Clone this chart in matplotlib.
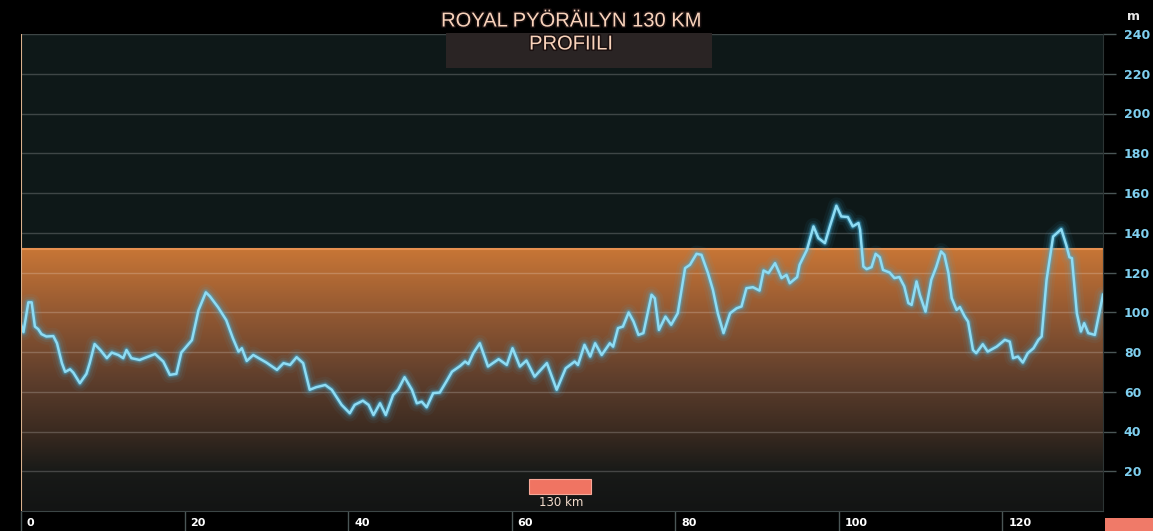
import numpy as np
import matplotlib.pyplot as plt
from matplotlib.colors import LinearSegmentedColormap
from matplotlib.patches import Rectangle
import matplotlib.patheffects as pe

# elevation profile
km = [0, 0.3, 0.9, 1.3, 1.7, 2.1, 2.5, 3.1, 3.95, 4.4, 5.0, 5.4, 6.0, 6.4, 7.2, 8.0, 8.4, 9.0, 9.7,
      10.5, 11.1, 11.9, 12.5, 12.9, 13.5, 14.5, 15.4, 16.4, 17.4, 18.2, 19.0, 19.6, 20.9, 21.7, 22.6,
      23.1, 24.1, 25.1, 25.9, 26.6, 27.0, 27.6, 28.4, 30.0, 31.3, 32.1, 32.9, 33.7, 34.5, 35.3, 36.1,
      37.2, 38.0, 39.2, 40.2, 40.8, 41.8, 42.5, 43.1, 43.9, 44.6, 45.5, 46.1, 46.9, 47.8, 48.4, 49.0,
      49.6, 50.4, 51.2, 52.0, 52.7, 53.7, 54.3, 54.7, 55.3, 56.1, 57.1, 58.4, 59.4, 60.1, 61.0, 61.8,
      62.8, 64.3, 65.5, 66.6, 67.7, 68.1, 68.9, 69.6, 70.2, 71.0, 72.0, 72.4, 73.0, 73.6, 74.3, 74.9,
      75.5, 76.1, 77.1, 77.5, 78.0, 78.8, 79.5, 80.3, 81.2, 81.8, 82.6, 83.2, 84.0, 84.6, 85.2, 85.9,
      86.7, 87.5, 88.1, 88.7, 89.5, 90.3, 90.8, 91.4, 92.2, 93.0, 93.6, 94.0, 94.9, 95.2, 96.1, 96.9,
      97.5, 98.3, 98.9, 99.7, 100.3, 101.1, 101.7, 102.4, 102.6, 103.0, 103.4, 104.0, 104.5, 105.0,
      105.4, 106.2, 106.8, 107.4, 108.0, 108.5, 108.9, 109.5, 109.9, 110.6, 111.3, 111.9, 112.5,
      112.9, 113.4, 113.8, 114.4, 114.8, 115.4, 115.8, 116.4, 116.8, 117.6, 118.2, 119.3, 120.3,
      120.9, 121.3, 121.9, 122.5, 123.1, 123.8, 124.4, 124.8, 125.4, 126.2, 127.2, 127.8, 128.2,
      128.5, 129.1, 129.6, 130.0, 130.5, 131.3, 132.3]
elev = [94, 90, 105, 105, 92.8, 91.5, 89, 87.8, 88, 84.4, 74.4, 70, 71.3, 69.6, 64.3, 69, 74.4, 84, 81,
        76.9, 79.7, 78.5, 76.9, 81, 76.9, 76, 77.4, 79, 75.2, 68.5, 69, 79.7, 86, 101, 110,
        108, 102.5, 96, 87, 80.2, 81.9, 75.5, 78.5, 74.7, 71, 74.4, 73.5, 77.4, 74.4, 61, 62.3,
        63.4, 61, 53.4, 49.2, 53.4, 55.5, 53.4, 48.3, 54.2, 48.3, 58.4, 61, 67.3, 61, 54.2, 55,
        52.2, 59.3, 59.6, 65.1, 70.1, 73, 75.2, 74, 79.4, 84.4, 72.7, 76.4, 73.5, 81.9, 72.7, 75.7,
        67.6, 74.4, 61, 71.8, 75.2, 73.5, 83.6, 77.7, 84.4, 78.5, 84.4, 82.7, 92, 92.8, 99.9, 95.3,
        88.6, 89.5, 108.8, 107, 91.1, 97.8, 93.7, 99.5, 122.2, 123.9, 129.4, 128.9, 119.7, 111.3, 99.5, 89.5,
        99.5, 102, 102.9, 112.1, 112.6, 110.9, 121, 119.7, 124.7, 117.2, 118.8, 114.6, 117.7, 123.9, 131.4, 143.2,
        137.3, 134.8, 143.2, 153.6, 148.2, 147.9, 143.2, 144.9, 141.5, 123, 121.7, 122.7, 129.4, 127.7,
        121.3, 120, 117.2, 117.7, 113, 104.6, 103.7, 115.5, 108.8, 100.3, 116.3, 122.7, 130.6,
        128.9, 119.7, 107.1, 101.2, 102.6, 97.8, 95.3, 81, 79.4, 83.9, 80.2, 82.7, 86.1,
        85.2, 76.9, 77.7, 74.7, 79.4, 81.9, 86.1, 87.8, 116.3, 138.1, 141.8, 133.9, 127.7,
        127.2, 99.5, 90.3, 94.5, 89.5, 88.6, 108.8]

band_top = 132
y_ticks = [20, 40, 60, 80, 100, 120, 140, 160, 180, 200, 220, 240]
x_ticks = [0, 20, 40, 60, 80, 100, 120]
title_1 = 'ROYAL PYÖRÄILYN 130 KM'
title_2 = 'PROFIILI'

plt.rcParams['font.family'] = ['DejaVu Sans']

fig = plt.figure(figsize=(11.53, 5.31), dpi=100, facecolor='black')
ax = fig.add_axes([21 / 1153, 20 / 531, 1082 / 1153, 477 / 531])
ax.set_facecolor('#0e1818')
ax.set_xlim(0, 132.3)
ax.set_ylim(0, 240)

# orange gradient band
cmap = LinearSegmentedColormap.from_list('band', [
    (0.0, '#131414'), (0.15, '#181a18'), (0.3, '#3a2a20'), (0.5, '#5e3e2c'),
    (0.75, '#925832'), (1.0, '#c87636')])
grad = np.linspace(0, 1, 256).reshape(-1, 1)
ax.imshow(grad, cmap=cmap, origin='lower', aspect='auto',
          extent=[0, 132.3, 0, band_top], zorder=1)
ax.axhline(band_top, color='#e69050', lw=1.5, zorder=2)

# grid lines
for v in y_ticks:
    ax.axhline(v, color='white', alpha=0.2, lw=1, zorder=2)

# glowing profile line
for w, a in [(12, 0.06), (8, 0.1), (5, 0.18), (3.4, 0.35)]:
    ax.plot(km, elev, color='#3fb6e6', lw=w, alpha=a, zorder=3,
            solid_joinstyle='round', solid_capstyle='round')
ax.plot(km, elev, color='#8edcf4', lw=1.8, zorder=4)

# left marker line
ax.axvline(0.05, color='#d9b08c', lw=1.5, zorder=5)

for s in ['top', 'left']:
    ax.spines[s].set_visible(False)
ax.spines['bottom'].set_color('#3c4646')
ax.spines['right'].set_color('#2c3434')

ax.yaxis.tick_right()
ax.set_yticks(y_ticks)
ax.set_yticklabels([str(v) for v in y_ticks])
ax.tick_params(axis='y', length=9, width=1, color='#4a5656', pad=6,
               labelcolor='#7fd0f0', labelsize=9)
for t in ax.get_yticklabels():
    t.set_fontweight('bold')

ax.set_xticks(x_ticks)
ax.set_xticklabels([])
ax.tick_params(axis='x', length=15, width=1, color='#4a5656')
for v in x_ticks:
    ax.annotate(str(v), xy=(v, 0), xycoords=('data', 'axes fraction'),
                xytext=(6, -12), textcoords='offset pixels', ha='left', va='center',
                color='white', fontsize=8, fontweight='bold')

fig.text(1127 / 1153, 1 - 16 / 531, 'm', color='#e8e8e8', fontsize=9,
         fontweight='bold', ha='left', va='center')

# title with dark box
fig.patches.append(Rectangle((446 / 1153, 1 - 68 / 531), 266 / 1153, 35 / 531,
                             transform=fig.transFigure, facecolor='#2a2424',
                             edgecolor='none', zorder=5))
stroke = [pe.withStroke(linewidth=2.2, foreground='#1a1010')]
fig.text(571 / 1153, 1 - 21 / 531, title_1, color='#f9d3bb', fontsize=14.5,
         family='Liberation Sans', ha='center', va='center', zorder=6, path_effects=stroke)
fig.text(571 / 1153, 1 - 44 / 531, title_2, color='#f9d3bb', fontsize=14.5,
         family='Liberation Sans', ha='center', va='center', zorder=6, path_effects=stroke)

# legend
fig.patches.append(Rectangle((529 / 1153, 1 - 494 / 531), 62 / 1153, 15 / 531,
                             transform=fig.transFigure, facecolor='#f07462',
                             edgecolor='#f8a898', lw=0.8, zorder=5))
fig.text(561 / 1153, 1 - 503 / 531, '130 km', color='#f3dccc', fontsize=8.5,
         ha='center', va='center', zorder=6)
fig.patches.append(Rectangle((1105 / 1153, 0), 48 / 1153, 13 / 531,
                             transform=fig.transFigure, facecolor='#f07a68',
                             edgecolor='none', zorder=5))

plt.savefig('out.png', dpi=100, facecolor='black')
